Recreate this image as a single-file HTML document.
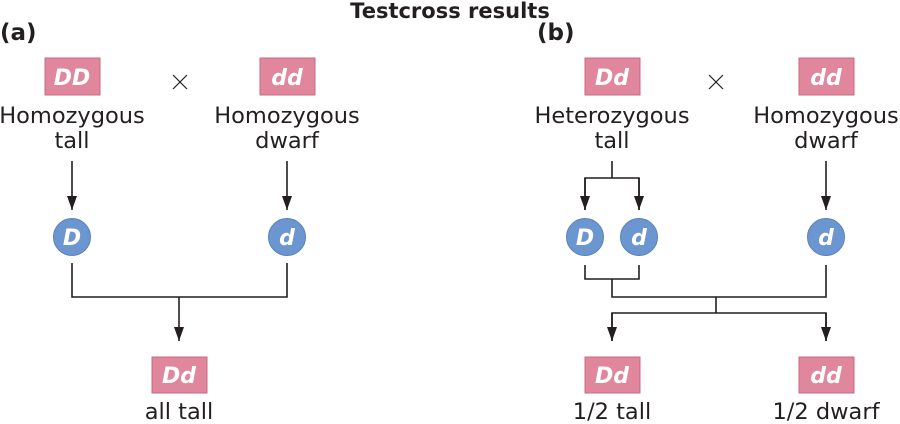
<!DOCTYPE html>
<html><head><meta charset="utf-8"><style>
html,body{margin:0;padding:0;background:#fff;width:900px;height:424px;overflow:hidden}
svg{display:block}
.t{font-family:"DejaVu Sans","Liberation Sans",sans-serif;font-size:22.5px;fill:#231f20;text-anchor:middle}
.g{font-family:"DejaVu Sans","Liberation Sans",sans-serif;font-size:22px;font-weight:bold;font-style:italic;fill:#fff;text-anchor:middle}
.b{fill:#e0869d;stroke:#c96a83;stroke-width:1}
.c{fill:#6b96cf;stroke:#5a82b8;stroke-width:1}
.l{stroke:#231f20;stroke-width:1.6;fill:none}
.x{stroke:#231f20;stroke-width:1.2}
.h{font-family:"DejaVu Sans","Liberation Sans",sans-serif;font-weight:bold;fill:#231f20}
</style></head><body>
<svg width="900" height="424" viewBox="0 0 900 424">
<defs>
<marker id="ar" viewBox="0 0 14 10" refX="14" refY="5" markerWidth="14" markerHeight="10" orient="auto" markerUnits="userSpaceOnUse"><path d="M0,0 L14,5 L0,10 Z" fill="#231f20"/></marker></defs>
<text x="450" y="18" class="h" text-anchor="middle" font-size="21">Testcross results</text>
<text x="0" y="40" class="h" font-size="23">(a)</text>
<text x="537" y="40" class="h" font-size="23">(b)</text>

<!-- (a) -->
<rect class="b" x="45" y="58" width="55" height="37"/><text class="g" x="72" y="85">DD</text>
<rect class="b" x="260" y="58" width="55" height="37"/><text class="g" x="287" y="85">dd</text>
<line class="x" x1="173" y1="75" x2="187" y2="89"/><line class="x" x1="187" y1="75" x2="173" y2="89"/>
<text class="t" x="72" y="123">Homozygous</text><text class="t" x="72" y="148">tall</text>
<text class="t" x="287" y="123">Homozygous</text><text class="t" x="287" y="148">dwarf</text>
<line class="l" x1="72" y1="161" x2="72" y2="210" marker-end="url(#ar)"/>
<line class="l" x1="287" y1="161" x2="287" y2="210" marker-end="url(#ar)"/>
<circle class="c" cx="72" cy="237" r="18.5"/><text class="g" x="72" y="245">D</text>
<circle class="c" cx="287" cy="237" r="18.5"/><text class="g" x="287" y="245">d</text>
<polyline class="l" points="72,263 72,297 287,297 287,263"/>
<line class="l" x1="179" y1="297" x2="179" y2="341" marker-end="url(#ar)"/>
<rect class="b" x="152" y="357" width="55" height="36"/><text class="g" x="179" y="383">Dd</text>
<text class="t" x="179" y="419">all tall</text>

<!-- (b) -->
<rect class="b" x="585" y="58" width="55" height="37"/><text class="g" x="612" y="85">Dd</text>
<rect class="b" x="799" y="58" width="55" height="37"/><text class="g" x="826" y="85">dd</text>
<line class="x" x1="709" y1="75" x2="723" y2="89"/><line class="x" x1="723" y1="75" x2="709" y2="89"/>
<text class="t" x="612" y="123">Heterozygous</text><text class="t" x="612" y="148">tall</text>
<text class="t" x="826" y="123">Homozygous</text><text class="t" x="826" y="148">dwarf</text>
<line class="l" x1="612" y1="161" x2="612" y2="178"/>
<polyline class="l" points="585,210 585,178 639,178 639,210"/>
<line class="l" x1="585" y1="178" x2="585" y2="210" marker-end="url(#ar)"/>
<line class="l" x1="639" y1="178" x2="639" y2="210" marker-end="url(#ar)"/>
<line class="l" x1="826" y1="161" x2="826" y2="210" marker-end="url(#ar)"/>
<circle class="c" cx="585" cy="237" r="18.5"/><text class="g" x="585" y="245">D</text>
<circle class="c" cx="639" cy="237" r="18.5"/><text class="g" x="639" y="245">d</text>
<circle class="c" cx="826" cy="237" r="18.5"/><text class="g" x="826" y="245">d</text>
<polyline class="l" points="585,265 585,279 639,279 639,265"/>
<polyline class="l" points="612,279 612,297 826,297 826,265"/>
<line class="l" x1="716" y1="297" x2="716" y2="313"/>
<polyline class="l" points="612,341 612,313 826,313 826,341"/>
<line class="l" x1="612" y1="313" x2="612" y2="341" marker-end="url(#ar)"/>
<line class="l" x1="826" y1="313" x2="826" y2="341" marker-end="url(#ar)"/>
<rect class="b" x="585" y="357" width="55" height="36"/><text class="g" x="612" y="383">Dd</text>
<rect class="b" x="799" y="357" width="55" height="36"/><text class="g" x="826" y="383">dd</text>
<text class="t" x="612" y="419">1/2 tall</text>
<text class="t" x="826" y="419">1/2 dwarf</text>
</svg>
</body></html>
